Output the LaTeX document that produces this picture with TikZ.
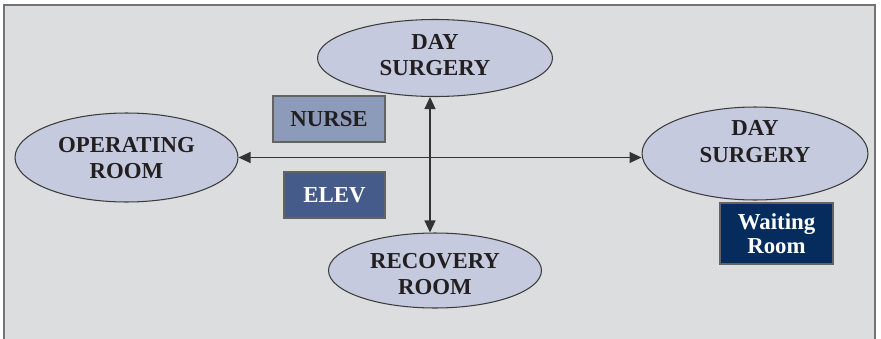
\documentclass[tikz,border=0pt]{standalone}
\usepackage{fontspec}
\setmainfont{Liberation Serif}
\usepackage{tikz}
\usetikzlibrary{shapes.geometric,arrows.meta}
\definecolor{paneGrey}{HTML}{DCDDDF}
\definecolor{roomFill}{HTML}{C5CADE}
\definecolor{nurseFill}{HTML}{8C9BBA}
\definecolor{elevFill}{HTML}{455C8A}
\definecolor{waitFill}{HTML}{062C5E}
\definecolor{edgeGrey}{HTML}{3C3C3C}
\definecolor{inkDark}{HTML}{231F20}

\begin{document}
\begin{tikzpicture}[x=0.02cm,y=-0.02cm,
        room/.style={draw=edgeGrey, line width=0.6pt, ellipse, fill=roomFill, inner sep=0pt,
            align=center, font=\fontsize{13}{14.8}\selectfont\bfseries, text=inkDark, text depth=0.1cm},
        plate/.style={draw=edgeGrey!80, line width=0.6pt, rectangle, inner sep=0pt,
            align=center, font=\fontsize{13}{13.6}\selectfont\bfseries},
        link/.style={line width=0.6pt, draw=black!80, {Triangle[length=0.24cm,width=0.22cm]}-{Triangle[length=0.24cm,width=0.22cm]}}]
        \useasboundingbox (0,0) rectangle (881,338);
        \fill[white] (0,0) rectangle (881,338);
        \draw[draw=black!55, line width=0.9pt, fill=paneGrey] (4,350) -- (4,5) -- (875,5) -- (875,350);

        \node[room, text height=0.82cm, minimum width=4.7cm, minimum height=1.54cm] (daysurg) at (435,58) {DAY\\SURGERY};
        \node[room, text height=0.96cm, minimum width=4.46cm, minimum height=1.78cm] (oproom) at (126.5,157.5) {OPERATING\\ROOM};
        \node[room, text height=0.44cm, minimum width=4.52cm, minimum height=1.86cm] (dayright) at (755,153.5) {DAY\\SURGERY};
        \node[room, text height=0.96cm, text depth=-0.1cm, minimum width=4.26cm, minimum height=1.5cm] (recovery) at (435,270.5) {RECOVERY\\ROOM};

        \node[plate, fill=nurseFill, text=inkDark, minimum width=2.24cm, minimum height=0.92cm] (nurse) at (329,119) {NURSE};
        \node[plate, fill=elevFill, text=white, minimum width=2.02cm, minimum height=0.92cm] (elev) at (334.5,195) {ELEV};
        \node[plate, fill=waitFill, text=white, minimum width=2.26cm, minimum height=1.22cm] (waiting) at (776.5,233.5) {Waiting\\Room};

        \draw[link] (oproom.east) -- (oproom.east -| dayright.west);
        \draw[link] ([xshift=-0.1cm]daysurg.south) -- ([xshift=-0.1cm]recovery.north);
    \end{tikzpicture}
\end{document}
